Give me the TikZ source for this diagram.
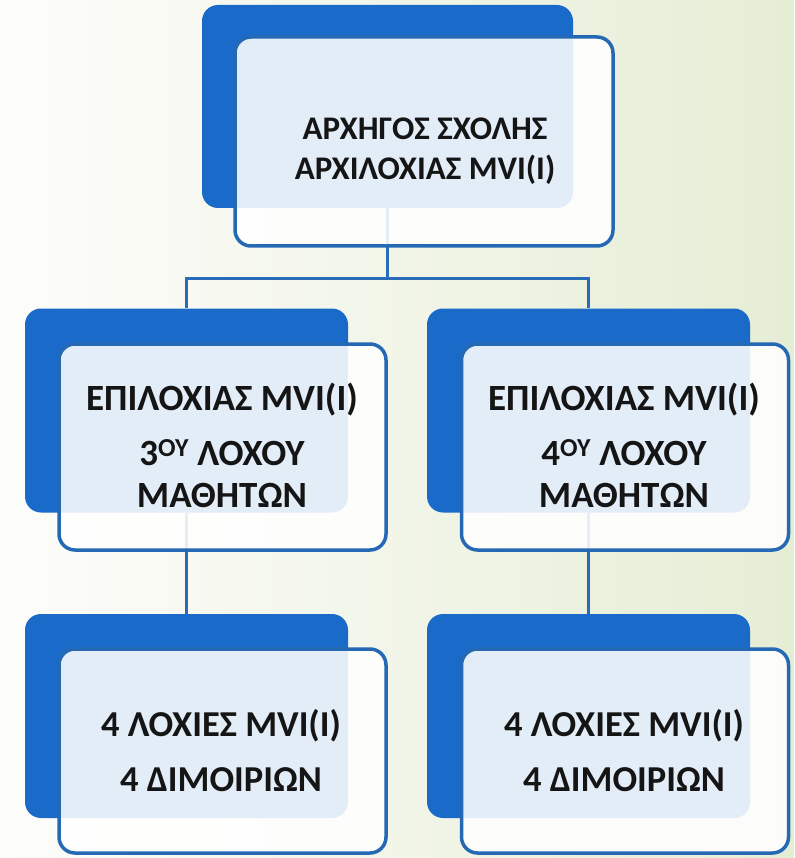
\documentclass[tikz,border=0pt]{standalone}
\usepackage{fontspec}
\setmainfont{Carlito}
\definecolor{tileblue}{HTML}{1A6BC9}
\definecolor{edgeblue}{HTML}{2568B4}
\definecolor{lineblue}{HTML}{2A6BB8}
\definecolor{bgleft}{HTML}{FDFDFB}
\definecolor{bgright}{HTML}{E6EDD5}
\definecolor{inktext}{HTML}{151515}

\begin{document}
\begin{tikzpicture}[x=1pt, y=-1pt,
    backbox/.style={fill=tileblue, rounded corners=16pt, inner sep=0pt,
                    minimum width=323pt, minimum height=204pt},
    frontbox/.style={draw=edgeblue, line width=3.5pt, fill=white, fill opacity=0.88,
                     rounded corners=16pt, inner sep=0pt,
                     minimum width=327pt, minimum height=206pt},
    caption/.style={align=center, text=inktext,
                    font=\fontsize{37}{42}\selectfont\bfseries},
    link/.style={draw=lineblue, line width=3pt}
]

\useasboundingbox (0,0) rectangle (794,858);
\shade[left color=bgleft, right color=bgright] (0,0) rectangle (794,858);

% back tiles
\node[backbox, minimum width=371pt, minimum height=203pt] (head) at (387.5,106.5) {};
\node[backbox] (coy3) at (186.5,410.5) {};
\node[backbox] (coy4) at (588.5,410.5) {};
\node[backbox] (plt3) at (186.5,716) {};
\node[backbox] (plt4) at (588.5,716) {};

% connectors
\draw[link] (head.south) -- ++(0,70) -| (coy3.north);
\draw[link] (head.south) -- ++(0,70) -| (coy4.north);
\draw[link] (coy3.south) -- (plt3.north);
\draw[link] (coy4.south) -- (plt4.north);

% front tiles
\node[frontbox, minimum width=378pt, minimum height=209pt] (headf) at (424,141.5) {};
\node[frontbox] (coy3f) at (222.5,447) {};
\node[frontbox] (coy4f) at (625,447) {};
\node[frontbox, minimum height=204pt] (plt3f) at (222.5,751) {};
\node[frontbox, minimum height=204pt] (plt4f) at (625,751) {};

% texts
\node[caption, font=\fontsize{33}{40}\selectfont\bfseries] (headtxt) at (425,151)
  {ΑΡΧΗΓΟΣ ΣΧΟΛΗΣ\\ΑΡΧΙΛΟΧΙΑΣ MVI(I)};
\node[caption] (coy3txt) at (222,445)
  {ΕΠΙΛΟΧΙΑΣ MVI(I)\\[13pt]3\textsuperscript{ΟΥ} ΛΟΧΟΥ\\ΜΑΘΗΤΩΝ};
\node[caption] (coy4txt) at (624,445)
  {ΕΠΙΛΟΧΙΑΣ MVI(I)\\[13pt]4\textsuperscript{ΟΥ} ΛΟΧΟΥ\\ΜΑΘΗΤΩΝ};
\node[caption, font=\fontsize{36.5}{55}\selectfont\bfseries] (plt3txt) at (221,751)
  {4 ΛΟΧΙΕΣ MVI(I)\\4 ΔΙΜΟΙΡΙΩΝ};
\node[caption, font=\fontsize{36.5}{55}\selectfont\bfseries] (plt4txt) at (624,751)
  {4 ΛΟΧΙΕΣ MVI(I)\\4 ΔΙΜΟΙΡΙΩΝ};

\end{tikzpicture}
\end{document}
